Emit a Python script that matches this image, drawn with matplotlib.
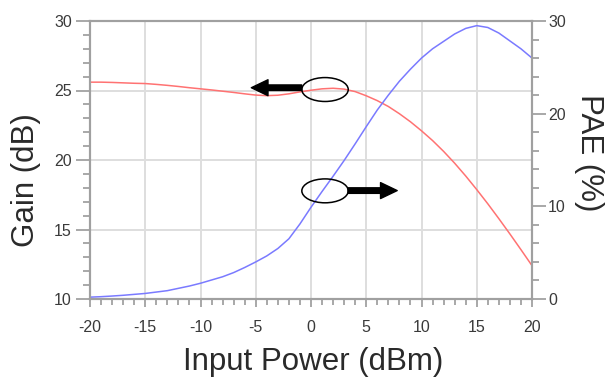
import matplotlib
matplotlib.use('Agg')
from matplotlib import pyplot as plt
from matplotlib.patches import Ellipse, FancyArrowPatch
from matplotlib.ticker import MultipleLocator

plt.rcParams['font.family'] = ['Liberation Sans', 'DejaVu Sans']
plt.rcParams['axes.unicode_minus'] = False

# data
pin = list(range(-20, 21))
gain = [25.6, 25.6, 25.58, 25.55, 25.52, 25.5, 25.44, 25.37, 25.29, 25.2,
        25.12, 25.04, 24.95, 24.86, 24.76, 24.67, 24.63, 24.66, 24.76, 24.9,
        25.02, 25.12, 25.16, 25.1, 24.92, 24.62, 24.27, 23.85, 23.33, 22.75,
        22.1, 21.4, 20.62, 19.77, 18.85, 17.87, 16.85, 15.78, 14.68, 13.55, 12.4]
pae = [0.2, 0.25, 0.32, 0.4, 0.5, 0.6, 0.75, 0.9, 1.15, 1.4,
       1.7, 2.05, 2.4, 2.85, 3.4, 4.0, 4.65, 5.45, 6.5, 8.1,
       9.9, 11.6, 13.25, 14.95, 16.75, 18.6, 20.4, 22.0, 23.5, 24.8,
       26.0, 27.0, 27.8, 28.6, 29.2, 29.5, 29.3, 28.7, 27.85, 27.0, 26.0]

xticks = [-20, -15, -10, -5, 0, 5, 10, 15, 20]
gain_ticks = [10, 15, 20, 25, 30]
pae_ticks = [0, 10, 20, 30]

fig = plt.figure(figsize=(6.05, 3.78), dpi=100)
ax = fig.add_axes([90/605, 1-299/378, 442/605, 278/378])
ax2 = ax.twinx()

ax.plot(pin, gain, color='#ff7272', lw=1.1)
ax2.plot(pin, pae, color='#7a7aff', lw=1.1)

ax.set_xlim(-20, 20)
ax.set_ylim(10, 30)
ax2.set_ylim(0, 30)
ax.set_xticks(xticks)
ax.set_yticks(gain_ticks)
ax2.set_yticks(pae_ticks)
ax.xaxis.set_minor_locator(MultipleLocator(1))
ax.yaxis.set_minor_locator(MultipleLocator(1))
ax2.yaxis.set_minor_locator(MultipleLocator(2))

ax.grid(True, which='major', color='#dedede', lw=1.4)
ax.set_axisbelow(True)

for a in (ax, ax2):
    for s in a.spines.values():
        s.set_color('#a0a0a0')
        s.set_linewidth(1.5)

ax.tick_params(axis='y', which='major', length=10, width=1.2, color='#999999',
               labelsize=11.5, labelcolor='#3a3a3a', pad=3)
ax.tick_params(axis='y', which='minor', length=5, width=1.2, color='#999999')
ax.tick_params(axis='x', which='major', length=6, width=1.2, color='#999999',
               labelsize=11.5, labelcolor='#3a3a3a', pad=9)
ax.tick_params(axis='x', which='minor', length=4, width=1.2, color='#999999')
ax2.tick_params(axis='y', which='major', length=10, width=1.2, color='#999999',
                labelsize=11.5, labelcolor='#3a3a3a', pad=1.5)
ax2.tick_params(axis='y', which='minor', length=5, width=1.2, color='#999999')

# ellipses + arrows pointing to each axis
for cx, cy in [(1.27, 25.07), (1.27, 17.78)]:
    ax2.add_patch(Ellipse((cx, cy), 4.2, 1.72, transform=ax.transData,
                          fill=False, ec='black', lw=1.1, zorder=5))
arrow_style = 'simple,head_length=12,head_width=11.5,tail_width=4'
ax2.add_patch(FancyArrowPatch((-0.84, 25.2), (-5.4, 25.2), transform=ax.transData,
                              arrowstyle=arrow_style, mutation_scale=1,
                              shrinkA=0, shrinkB=0, color='black', zorder=6))
ax2.add_patch(FancyArrowPatch((3.35, 17.8), (7.8, 17.8), transform=ax.transData,
                              arrowstyle=arrow_style, mutation_scale=1,
                              shrinkA=0, shrinkB=0, color='black', zorder=6))

fig.text(26/605, 1-180/378, 'Gain (dB)', rotation=90, ha='center', va='center',
         fontsize=22.5, color='#2a2a2a')
fig.text(589/605, 1-153/378, 'PAE (%)', rotation=270, ha='center', va='center',
         fontsize=22.5, color='#2a2a2a')
fig.text(313/605, 1-362/378, 'Input Power (dBm)', ha='center', va='center',
         fontsize=22.5, color='#2a2a2a')

fig.savefig('out.png', dpi=100)
